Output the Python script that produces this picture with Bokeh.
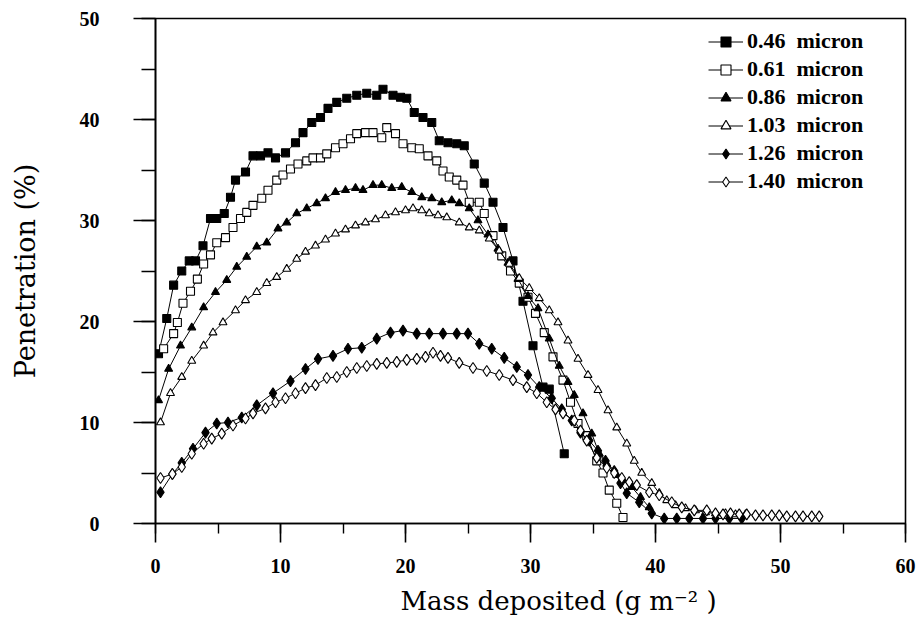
from bokeh.plotting import figure
from bokeh.models import Legend, LegendItem, SingleIntervalTicker, Range1d, Title
from bokeh.embed import file_html
from bokeh.resources import INLINE

# ---------------- data ----------------
series_labels = ["0.46  micron", "0.61  micron", "0.86  micron",
                 "1.03  micron", "1.26  micron", "1.40  micron"]

x_046 = [0.24, 0.9, 1.45, 2.1, 2.7, 3.2, 3.8, 4.4, 4.9, 5.5, 6.0, 6.4, 7.2, 7.8, 8.4, 9.0, 9.6,
         10.4, 11.2, 11.8, 12.5, 13.2, 13.8, 14.5, 15.3, 16.1, 16.9, 17.7, 18.2, 19.0, 19.6,
         20.1, 20.7, 21.4, 22.1, 22.7, 23.4, 24.1, 24.7, 25.5, 26.3, 27.0, 27.8, 28.6, 29.4,
         30.2, 31.0, 31.5, 32.7]
y_046 = [16.8, 20.3, 23.6, 25.0, 26.0, 26.0, 27.5, 30.2, 30.2, 30.7, 32.3, 34.0, 34.8, 36.4,
         36.4, 36.7, 36.2, 36.7, 37.7, 38.7, 39.7, 40.2, 41.1, 41.7, 42.1, 42.4, 42.6, 42.4,
         43.0, 42.4, 42.2, 42.1, 40.7, 40.2, 39.7, 37.9, 37.7, 37.6, 37.4, 35.6, 33.7, 31.8,
         29.3, 26.0, 22.0, 17.6, 13.5, 13.3, 6.9]

x_061 = [0.65, 1.45, 1.75, 2.2, 2.8, 3.35, 3.85, 4.4, 4.9, 5.6, 6.2, 6.8, 7.3, 7.8, 8.5, 9.0,
         9.7, 10.2, 10.8, 11.4, 12.1, 12.6, 13.2, 13.7, 14.4, 15.0, 15.6, 16.1, 16.8, 17.4,
         18.1, 18.5, 19.2, 19.8, 20.5, 21.1, 21.8, 22.5, 23.0, 23.5, 24.1, 24.6, 25.1, 25.9,
         26.3, 27.0, 27.7, 28.4, 29.1, 29.8, 30.4, 31.1, 31.8, 32.6, 33.2, 33.8, 34.5, 35.3,
         35.8, 36.3, 36.9, 37.4]
y_061 = [17.3, 18.8, 19.9, 21.8, 23.0, 24.2, 25.7, 26.6, 27.8, 28.3, 29.3, 30.2, 30.8, 31.5,
         32.2, 33.0, 34.0, 34.5, 35.1, 35.6, 35.9, 36.2, 36.2, 36.6, 37.2, 37.6, 38.1, 38.6,
         38.7, 38.7, 38.2, 39.2, 38.6, 37.6, 37.2, 37.1, 36.4, 35.9, 34.9, 34.3, 34.0, 33.5,
         31.8, 31.8, 30.7, 28.5, 26.5, 25.0, 23.8, 22.4, 20.8, 18.9, 16.5, 14.2, 12.0, 9.9,
         8.7, 6.2, 5.0, 3.3, 2.0, 0.6]

x_086 = [0.24, 1.05, 2.0, 2.9, 3.85, 4.8, 5.7, 6.5, 7.3, 8.1, 8.9, 9.8, 10.5, 11.3, 12.1,
         12.9, 13.6, 14.4, 15.2, 16.0, 16.6, 17.4, 18.1, 18.9, 19.7, 20.5, 21.3, 22.1, 22.9,
         23.7, 24.3, 25.1, 25.8, 26.6, 27.4, 28.2, 29.0, 29.8, 30.6, 31.5, 32.3, 33.0, 33.5,
         34.2, 34.9, 35.5, 36.1, 36.9, 37.4, 38.1, 38.8, 39.5]
y_086 = [12.2, 15.3, 17.6, 19.4, 21.4, 22.9, 24.1, 25.4, 26.4, 27.4, 27.8, 29.2, 29.8, 30.7,
         31.2, 31.7, 32.2, 32.8, 33.0, 33.2, 33.0, 33.5, 33.5, 33.2, 33.3, 32.8, 32.3, 32.2,
         31.8, 32.0, 31.7, 31.2, 30.0, 28.6, 27.2, 25.8, 24.2, 22.5, 21.3, 18.3, 15.6, 14.0,
         12.7, 10.9, 8.9, 6.9, 5.9, 4.8, 4.3, 3.6, 2.6, 1.6]

x_103 = [0.4, 1.2, 2.1, 2.9, 3.85, 4.6, 5.4, 6.4, 7.2, 8.1, 8.9, 9.7, 10.5, 11.3, 12.0, 12.8,
         13.6, 14.4, 15.2, 16.0, 16.8, 17.6, 18.4, 19.2, 20.0, 20.6, 21.3, 21.9, 22.6, 23.3,
         24.3, 25.1, 25.9, 26.7, 27.5, 28.3, 29.1, 29.9, 30.7, 31.5, 32.2, 33.0, 33.8, 34.6,
         35.4, 36.2, 36.9, 37.7, 38.3, 38.9, 39.7, 40.3, 40.9, 41.6, 42.4, 43.2, 44.0, 44.8,
         45.6, 46.4, 47.2]
y_103 = [10.0, 12.9, 14.5, 16.1, 17.6, 18.9, 19.9, 21.1, 22.1, 22.9, 23.8, 24.4, 25.2, 26.2,
         26.9, 27.5, 28.1, 28.7, 29.1, 29.5, 29.8, 30.1, 30.5, 30.8, 31.0, 31.2, 31.0, 30.7,
         30.5, 30.3, 29.8, 29.3, 29.0, 28.2, 27.0, 25.7, 24.3, 23.3, 22.3, 21.1, 19.9, 18.1,
         16.3, 14.7, 13.2, 11.2, 9.5, 7.9, 6.2, 5.0, 4.0, 3.0, 2.3, 1.8, 1.5, 1.3, 1.1, 1.0,
         1.0, 0.9, 0.9]

x_126 = [0.4, 1.35, 2.1, 3.0, 4.0, 4.9, 5.8, 6.9, 8.1, 9.4, 10.8, 12.0, 13.0, 14.2, 15.4,
         16.5, 17.7, 18.8, 19.8, 20.9, 21.9, 23.0, 24.1, 25.0, 25.9, 26.9, 27.9, 28.9, 29.8,
         30.7, 31.7, 32.5, 33.3, 34.0, 34.7, 35.4, 36.0, 36.7, 37.2, 37.7, 38.7, 39.7, 40.7,
         41.7, 42.7, 43.8, 44.8, 45.9, 46.9]
y_126 = [3.1, 4.9, 6.0, 7.4, 9.0, 9.9, 10.0, 10.5, 11.7, 12.9, 14.1, 15.3, 16.3, 16.6, 17.3,
         17.4, 18.3, 18.9, 19.1, 18.8, 18.8, 18.8, 18.8, 18.8, 17.8, 17.3, 16.4, 15.5, 14.7,
         13.5, 12.4, 11.3, 10.2, 9.0, 8.2, 7.2, 6.2, 5.2, 4.0, 3.0, 2.1, 1.0, 0.5, 0.5, 0.5,
         0.5, 0.5, 0.5, 0.5]

x_140 = [0.4, 1.35, 2.1, 2.9, 3.85, 4.5, 5.3, 6.2, 7.2, 7.8, 8.8, 9.6, 10.4, 11.2, 12.0,
         12.8, 13.7, 14.5, 15.3, 16.1, 16.9, 17.7, 18.5, 19.3, 20.1, 20.9, 21.6, 22.2, 22.8,
         23.4, 24.3, 25.4, 26.5, 27.5, 28.6, 29.7, 30.5, 31.3, 32.0, 32.6, 33.5, 34.0, 34.5,
         35.3, 36.1, 36.7, 37.3, 37.9, 38.5, 39.5, 40.3, 41.3, 42.1, 43.1, 44.1, 44.8, 45.4,
         46.0, 46.7, 47.3, 48.0, 48.6, 49.3, 49.9, 50.5, 51.2, 51.8, 52.5, 53.1]
y_140 = [4.5, 4.9, 5.6, 6.9, 7.9, 8.4, 8.9, 9.7, 10.4, 10.9, 11.4, 12.0, 12.4, 12.9, 13.4,
         13.7, 14.4, 14.5, 15.0, 15.4, 15.6, 15.8, 15.9, 16.0, 16.2, 16.3, 16.5, 16.9, 16.6,
         16.4, 15.9, 15.4, 15.1, 14.7, 14.2, 13.5, 12.9, 12.0, 11.3, 10.9, 10.2, 9.2, 8.2,
         6.5, 5.5, 5.0, 4.5, 4.1, 3.8, 3.1, 2.8, 2.1, 1.6, 1.3, 1.3, 1.0, 0.9, 1.0, 0.9, 0.9,
         0.8, 0.8, 0.8, 0.8, 0.7, 0.7, 0.7, 0.7, 0.7]

x_title = "Mass deposited (g m\u207b\u00b2 )"
y_title = "Penetration (%)"
x_ticks_interval = 10
y_ticks_interval = 10

# ---------------- figure ----------------
p = figure(width=921, height=632, output_backend="svg", toolbar_location=None,
           x_range=Range1d(0, 60), y_range=Range1d(0, 50),
           min_border_left=155, min_border_right=16, min_border_top=18,
           min_border_bottom=109)
p.background_fill_color = "white"
p.border_fill_color = "white"
p.grid.visible = False
p.outline_line_color = "black"
p.outline_line_width = 1.6

p.xaxis.ticker = SingleIntervalTicker(interval=x_ticks_interval, num_minor_ticks=2)
p.yaxis.ticker = SingleIntervalTicker(interval=y_ticks_interval, num_minor_ticks=2)

for ax in (p.xaxis, p.yaxis):
    ax.axis_line_color = "black"
    ax.axis_line_width = 1.6
    ax.major_tick_line_color = "black"
    ax.major_tick_line_width = 1.6
    ax.minor_tick_line_color = "black"
    ax.minor_tick_line_width = 1.4
    ax.major_tick_in = 0
    ax.minor_tick_in = 0
    ax.major_label_text_font = "Liberation Serif"
    ax.major_label_text_font_style = "bold"
    ax.major_label_text_font_size = "20px"
    ax.major_label_text_color = "black"

p.yaxis.major_tick_out = 22
p.yaxis.minor_tick_out = 14
p.yaxis.major_label_standoff = 34
p.xaxis.major_tick_out = 19
p.xaxis.minor_tick_out = 10
p.xaxis.major_label_standoff = 16

p.yaxis.axis_label = y_title
p.yaxis.axis_label_text_font = "DejaVu Serif"
p.yaxis.axis_label_text_font_style = "normal"
p.yaxis.axis_label_text_font_size = "27px"
p.yaxis.axis_label_text_color = "black"
p.yaxis.axis_label_standoff = 36

xt = Title(text=x_title, align="left", offset=245, standoff=17,
           text_font="DejaVu Serif", text_font_style="normal",
           text_font_size="26px", text_color="black")
p.add_layout(xt, "below")

# ---------------- series ----------------
specs = [
    (x_046, y_046, "square", 8, "black"),
    (x_061, y_061, "square", 8, "white"),
    (x_086, y_086, "triangle", 8, "black"),
    (x_103, y_103, "triangle", 8, "white"),
    (x_126, y_126, "diamond", 11, "black"),
    (x_140, y_140, "diamond", 11, "white"),
]

items = []
for (xs, ys, mk, sz, fill), lab in zip(specs, series_labels):
    ln = p.line(xs, ys, line_color="black", line_width=1)
    sc = p.scatter(xs, ys, marker=mk, size=sz, fill_color=fill,
                   line_color="black", line_width=1.1)
    items.append(LegendItem(label=lab, renderers=[ln, sc]))

legend = Legend(items=items, location=(553, 329), border_line_color=None,
                background_fill_alpha=0, padding=0, margin=0, spacing=2,
                glyph_width=35, glyph_height=25, label_standoff=4,
                label_text_font="Liberation Serif", label_text_font_style="bold",
                label_text_font_size="22px", label_text_color="black")
p.add_layout(legend)

open("out.html", "w").write(file_html(p, INLINE))
